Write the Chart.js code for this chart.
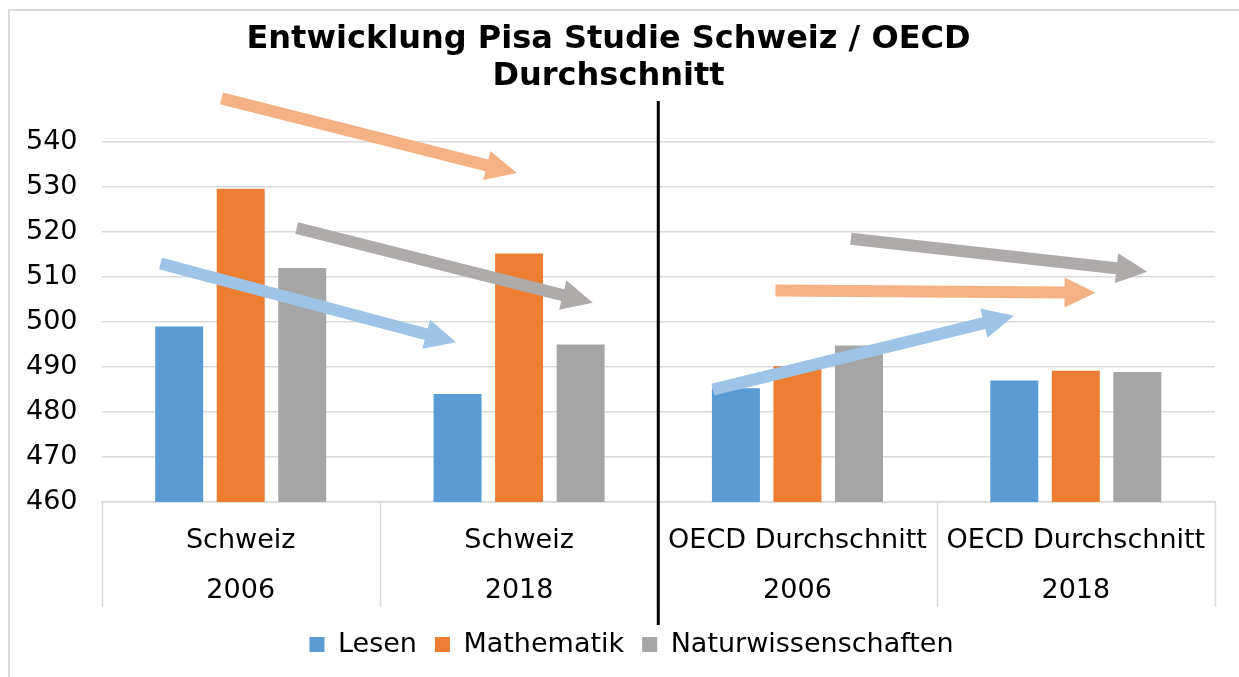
<!DOCTYPE html>
<html>
<head>
<meta charset="utf-8">
<script src="https://cdn.jsdelivr.net/npm/chart.js@4.4.1/dist/chart.umd.min.js"></script>
<style>
  html, body { margin: 0; padding: 0; background: #fff; }
  #wrap { width: 1239px; height: 677px; position: relative; }
</style>
</head>
<body>
<div id="wrap"><canvas id="pisa"></canvas></div>
<script>
const categories = [['Schweiz', '2006'], ['Schweiz', '2018'], ['OECD Durchschnitt', '2006'], ['OECD Durchschnitt', '2018']];
const lesen = [499, 484, 485.3, 487];
const mathematik = [529.6, 515.2, 490.2, 489.2];
const naturwiss = [512, 495, 494.8, 488.9];
const yTicks = [460, 470, 480, 490, 500, 510, 520, 530, 540];

// trend arrows: [fromIndex, fromValue, toIndex, toValue, colour]
const arrows = [
  [-0.069, 549.7, 0.992, 533.1, '#f4b183'],
  [0.201, 520.9, 1.265, 504.3, '#aeaaaa'],
  [-0.288, 513.0, 0.774, 495.5, '#9dc3e6'],
  [2.192, 518.5, 3.257, 511.2, '#aeaaaa'],
  [1.921, 507.0, 3.071, 506.5, '#f4b183'],
  [1.696, 485.0, 2.778, 501.4, '#9dc3e6']
];

const FONT = "'DejaVu Sans', Verdana, sans-serif";

const decorations = {
  id: 'decorations',
  afterLayout(chart) {
    // legend sits a bit higher and right of centre in the original
    const lg = chart.legend;
    lg.top -= 9; lg.bottom -= 9;
    lg.left += 23; lg.right += 23;
  },
  beforeDraw(chart) {
    const c = chart.ctx;
    c.save();
    c.strokeStyle = '#d9d9d9';
    c.lineWidth = 2;
    c.strokeRect(9, 10, chart.width + 40, chart.height + 40);
    c.restore();
  },
  afterDraw(chart) {
    const c = chart.ctx;
    const xs = chart.scales.x, ys = chart.scales.y;
    const area = chart.chartArea;
    const step = xs.getPixelForValue(1) - xs.getPixelForValue(0);
    const xAt = v => xs.getPixelForValue(0) + v * step;
    c.save();
    // category separators below the axis
    c.strokeStyle = '#d9d9d9';
    c.lineWidth = 1.5;
    for (let i = 0; i <= categories.length; i++) {
      const px = Math.round(xAt(i - 0.5)) + 0.5;
      c.beginPath();
      c.moveTo(px, area.bottom);
      c.lineTo(px, area.bottom + 105);
      c.stroke();
    }
    // black divider between Schweiz and OECD
    const dx = xAt(1.5);
    c.strokeStyle = '#000';
    c.lineWidth = 3;
    c.beginPath();
    c.moveTo(dx, area.top - 41);
    c.lineTo(dx, area.bottom + 123);
    c.stroke();
    // arrows
    arrows.forEach(([x0, v0, x1, v1, col]) => {
      const ax = xAt(x0), ay = ys.getPixelForValue(v0);
      const bx = xAt(x1), by = ys.getPixelForValue(v1);
      const ang = Math.atan2(by - ay, bx - ax);
      const len = Math.hypot(bx - ax, by - ay);
      const headLen = 31, headW = 15, shaft = 6;
      c.save();
      c.translate(ax, ay);
      c.rotate(ang);
      c.fillStyle = col;
      c.beginPath();
      c.moveTo(0, -shaft);
      c.lineTo(len - headLen, -shaft);
      c.lineTo(len - headLen, -headW);
      c.lineTo(len, 0);
      c.lineTo(len - headLen, headW);
      c.lineTo(len - headLen, shaft);
      c.lineTo(0, shaft);
      c.closePath();
      c.fill();
      c.restore();
    });
    c.restore();
  }
};

new Chart(document.getElementById('pisa'), {
  type: 'bar',
  data: {
    labels: categories,
    datasets: [
      { label: 'Lesen', data: lesen, backgroundColor: '#5b9bd5' },
      { label: 'Mathematik', data: mathematik, backgroundColor: '#ed7d31' },
      { label: 'Naturwissenschaften', data: naturwiss, backgroundColor: '#a5a5a5' }
    ]
  },
  options: {
    responsive: true,
    maintainAspectRatio: false,
    animation: false,
    datasets: { bar: { categoryPercentage: 0.663, barPercentage: 0.78 } },
    layout: { padding: { left: 2, right: 24, top: 0, bottom: 0 } },
    plugins: {
      title: {
        display: true,
        text: ['Entwicklung Pisa Studie Schweiz / OECD', 'Durchschnitt'],
        color: '#000',
        font: { family: FONT, size: 32, weight: 'bold', lineHeight: 1.156 },
        padding: { top: 21, bottom: 47 }
      },
      legend: {
        position: 'bottom',
        labels: {
          color: '#000',
          font: { family: FONT, size: 27 },
          boxWidth: 15,
          boxHeight: 15,
          padding: 18
        }
      },
      tooltip: { enabled: false }
    },
    scales: {
      x: {
        grid: { display: false },
        border: { display: true, color: '#d9d9d9', width: 1.5 },
        ticks: {
          color: '#000',
          font: { family: FONT, size: 27, lineHeight: 1.85 },
          maxRotation: 0,
          autoSkip: false,
          padding: 6
        }
      },
      y: {
        min: 460,
        max: 540,
        afterBuildTicks: s => { s.ticks = yTicks.map(v => ({ value: v })); },
        grid: { color: '#d9d9d9', lineWidth: 1.5, drawTicks: false },
        border: { display: false },
        ticks: {
          color: '#000',
          font: { family: FONT, size: 27 },
          padding: 24
        }
      }
    }
  },
  plugins: [decorations]
});
</script>
</body>
</html>
